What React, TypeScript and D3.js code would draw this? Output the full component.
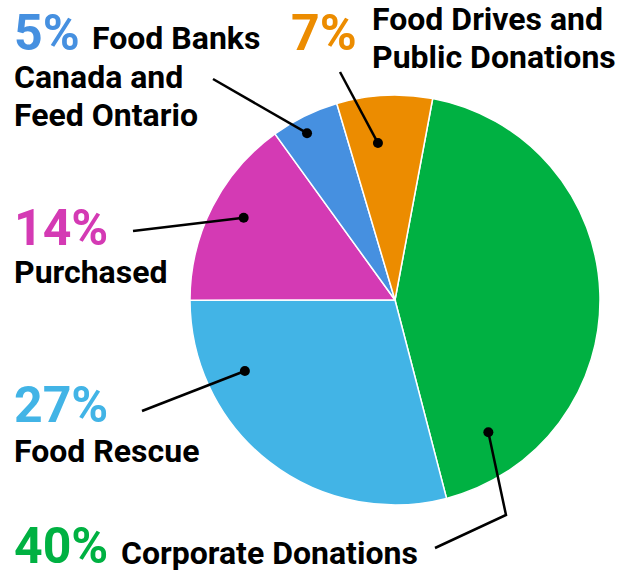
import React from "react";
import * as d3 from "d3";

const categories = [
  "Corporate Donations",
  "Food Rescue",
  "Purchased",
  "Food Banks Canada and Feed Ontario",
  "Food Drives and Public Donations",
];
const values = [40, 27, 14, 5, 7];
const colors = ["#00b142", "#42b4e6", "#d43ab4", "#4690e0", "#ec8c00"];
const percentLabels = ["40%", "27%", "14%", "5%", "7%"];
// label text lines per category
const labelLines = [
  ["Corporate Donations"],
  ["Food Rescue"],
  ["Purchased"],
  ["Food Banks", "Canada and", "Feed Ontario"],
  ["Food Drives and", "Public Donations"],
];
// leader dot position in polar coords relative to pie (deg clockwise from top, radius fraction)
const dotAngles = [144.8, 244.7, 298.5, 332.2, 353.8];
const dotRadii = [0.79, 0.81, 0.84, 0.92, 0.77];

const W = 633;
const H = 573;
const cx = 395;
const cy = 300;
const R = 205;

export default function App() {
  const startDeg = 10.6;
  const pie = d3
    .pie<number>()
    .sort(null)
    .value((d) => d)
    .startAngle((startDeg * Math.PI) / 180)
    .endAngle((startDeg * Math.PI) / 180 + 2 * Math.PI);
  const arcs = pie(values);
  const arcGen = d3.arc<d3.PieArcDatum<number>>().innerRadius(0).outerRadius(R);

  const dot = (i: number): [number, number] => {
    const a = (dotAngles[i] * Math.PI) / 180;
    const r = dotRadii[i] * R;
    return [cx + r * Math.sin(a), cy - r * Math.cos(a)];
  };

  const font = "Roboto, 'Noto Sans', sans-serif";
  const pctSize = 50;
  const lblSize = 32;

  const leaders: [number, number][][] = [
    [dot(0), [506, 515], [435, 548]],
    [dot(1), [142, 411]],
    [dot(2), [133, 231]],
    [dot(3), [213, 79]],
    [dot(4), [340, 72]],
  ];
  const line = d3.line();

  return (
    <svg
      width={W}
      height={H}
      style={{ position: "absolute", left: 0, top: 0, background: "#fff" }}
      fontFamily={font}
    >
      <g transform={`translate(${cx},${cy})`}>
        {arcs.map((a, i) => (
          <path key={i} d={arcGen(a) || ""} fill={colors[i]} stroke="#fff" strokeWidth={1.5} />
        ))}
      </g>
      {leaders.map((pts, i) => (
        <g key={i}>
          <path d={line(pts) || ""} fill="none" stroke="#000" strokeWidth={2.5} />
          <circle cx={pts[0][0]} cy={pts[0][1]} r={5} fill="#000" />
        </g>
      ))}
      {/* 5% Food Banks */}
      <text x={14} y={50} fontSize={pctSize} fontWeight={700} fill={colors[3]}>{percentLabels[3]}</text>
      <text x={92} y={49} fontSize={lblSize} fontWeight={700} fill="#000">{labelLines[3][0]}</text>
      <text x={14} y={88} fontSize={lblSize} fontWeight={700} fill="#000">{labelLines[3][1]}</text>
      <text x={14} y={126} fontSize={lblSize} fontWeight={700} fill="#000">{labelLines[3][2]}</text>
      {/* 7% */}
      <text x={291} y={50} fontSize={pctSize} fontWeight={700} fill={colors[4]}>{percentLabels[4]}</text>
      <text x={372} y={30} fontSize={lblSize} fontWeight={700} fill="#000">{labelLines[4][0]}</text>
      <text x={372} y={68} fontSize={lblSize} fontWeight={700} fill="#000">{labelLines[4][1]}</text>
      {/* 14% */}
      <text x={14} y={245} fontSize={pctSize} fontWeight={700} fill={colors[2]}>{percentLabels[2]}</text>
      <text x={14} y={283} fontSize={lblSize} fontWeight={700} fill="#000">{labelLines[2][0]}</text>
      {/* 27% */}
      <text x={14} y={422} fontSize={pctSize} fontWeight={700} fill={colors[1]}>{percentLabels[1]}</text>
      <text x={14} y={462} fontSize={lblSize} fontWeight={700} fill="#000">{labelLines[1][0]}</text>
      {/* 40% */}
      <text x={14} y={563} fontSize={pctSize} fontWeight={700} fill={colors[0]}>{percentLabels[0]}</text>
      <text x={121} y={564} fontSize={lblSize} fontWeight={700} fill="#000">{labelLines[0][0]}</text>
    </svg>
  );
}
